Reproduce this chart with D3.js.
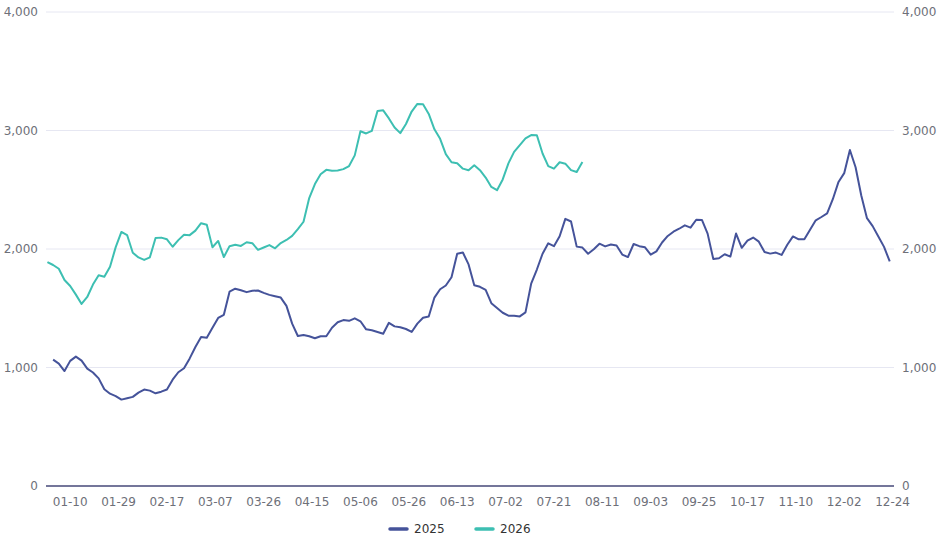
<!DOCTYPE html>
<html>
<head>
<meta charset="utf-8">
<script src="https://cdn.jsdelivr.net/npm/d3@7"></script>
<style>
    html, body { margin: 0; padding: 0; background: #fff; }
    svg text { font-family: 'DejaVu Sans', sans-serif; font-size: 12px; fill: #6E7079; }
</style>
</head>
<body>
<svg id="chart" width="949" height="539"></svg>
<script>
// category axis: 298 trading-day slots, a label every 17 slots starting at slot 8
const categoryCount = 298;
const tickLabels = ['01-10', '01-29', '02-17', '03-07', '03-26', '04-15', '05-06', '05-26', '06-13',
    '07-02', '07-21', '08-11', '09-03', '09-25', '10-17', '11-10', '12-02', '12-24'];
const firstTick = 8;
const tickEvery = 17;

const yTicks = [0, 1000, 2000, 3000, 4000];

// values read every 2nd slot (slot 0, 2, 4, ...)
const step = 2;
const series2025 = [
    null, 1066, 1033, 970, 1056, 1092, 1058, 990, 958, 908,
    816, 779, 759, 729, 741, 752, 788, 814, 805, 782,
    796, 814, 897, 960, 994, 1077, 1173, 1258, 1251, 1335,
    1418, 1445, 1640, 1665, 1652, 1636, 1648, 1650, 1630, 1613,
    1601, 1590, 1520, 1370, 1266, 1275, 1264, 1247, 1264, 1264,
    1336, 1382, 1400, 1394, 1415, 1390, 1322, 1314, 1300, 1285,
    1377, 1347, 1340, 1325, 1300, 1370, 1420, 1431, 1590, 1660,
    1692, 1762, 1960, 1970, 1870, 1694, 1681, 1655, 1543, 1502,
    1462, 1437, 1437, 1431, 1465, 1708, 1827, 1960, 2048, 2024,
    2108, 2254, 2232, 2020, 2012, 1960, 1998, 2045, 2022, 2038,
    2030, 1953, 1932, 2042, 2024, 2014, 1952, 1980, 2055, 2110,
    2146, 2171, 2200, 2180, 2247, 2245, 2130, 1915, 1922, 1956,
    1936, 2130, 2010, 2070, 2097, 2062, 1975, 1961, 1970, 1950,
    2036, 2106, 2082, 2082, 2162, 2242, 2270, 2300, 2420, 2566,
    2640, 2835, 2690, 2451, 2260, 2193, 2106, 2018, 1895
];
const series2026 = [
    1890, 1865, 1833, 1738, 1688, 1615, 1536, 1595, 1700, 1778,
    1766, 1850, 2016, 2144, 2118, 1968, 1929, 1908, 1930, 2093,
    2096, 2082, 2019, 2075, 2120, 2117, 2155, 2218, 2205, 2015,
    2068, 1932, 2024, 2036, 2026, 2057, 2049, 1993, 2013, 2033,
    2006, 2050, 2076, 2111, 2167, 2230, 2430, 2548, 2631, 2668,
    2661, 2663, 2674, 2700, 2790, 2994, 2975, 2997, 3165, 3170,
    3102, 3025, 2978, 3055, 3160, 3224, 3221, 3140, 3010, 2930,
    2800, 2732, 2724, 2678, 2665, 2707, 2665, 2603, 2524, 2496,
    2587, 2723, 2820, 2877, 2933, 2961, 2960, 2806, 2700, 2678,
    2732, 2720, 2666, 2650, 2735
];

const seriesNames = ['2025', '2026'];
const seriesColors = ['#45539a', '#3dbfb2'];

const svg = d3.select('#chart');
const margin = { left: 46, right: 55, top: 12, bottom: 53 };
const width = 949, height = 539;

const x = d3.scaleBand()
    .domain(d3.range(categoryCount))
    .range([margin.left, width - margin.right]);
const cx = i => x(i) + x.bandwidth() / 2;

const y = d3.scaleLinear()
    .domain([0, 4000])
    .range([height - margin.bottom, margin.top]);

// grid
svg.append('g')
    .selectAll('line')
    .data(yTicks.filter(d => d > 0))
    .enter()
    .append('line')
    .attr('x1', margin.left)
    .attr('x2', width - margin.right)
    .attr('y1', d => y(d))
    .attr('y2', d => y(d))
    .style('stroke', '#E6E7F2')
    .style('stroke-width', '1px');

// y labels, both sides
const fmt = d3.format(',');
svg.append('g')
    .selectAll('text')
    .data(yTicks)
    .enter()
    .append('text')
    .attr('x', margin.left - 8)
    .attr('y', d => y(d))
    .attr('dy', '0.35em')
    .attr('text-anchor', 'end')
    .text(d => fmt(d));

svg.append('g')
    .selectAll('text')
    .data(yTicks)
    .enter()
    .append('text')
    .attr('x', width - margin.right + 8)
    .attr('y', d => y(d))
    .attr('dy', '0.35em')
    .attr('text-anchor', 'start')
    .text(d => fmt(d));

// x axis line
svg.append('line')
    .attr('x1', margin.left)
    .attr('x2', width - margin.right)
    .attr('y1', y(0))
    .attr('y2', y(0))
    .style('stroke', '#74769a')
    .style('stroke-width', '2px');

svg.append('g')
    .selectAll('text')
    .data(tickLabels)
    .enter()
    .append('text')
    .attr('x', (d, i) => cx(firstTick + i * tickEvery))
    .attr('y', y(0) + 20)
    .attr('text-anchor', 'middle')
    .text(d => d);

// lines
const line = d3.line()
    .defined(d => d[1] != null)
    .x(d => cx(d[0]))
    .y(d => y(d[1]));

[series2025, series2026].forEach((vals, k) => {
    const pts = vals.map((v, i) => [i * step, v]);
    svg.append('path')
        .datum(pts)
        .attr('d', line)
        .style('fill', 'none')
        .style('stroke', seriesColors[k])
        .style('stroke-width', '2px')
        .style('stroke-linejoin', 'round');
});

// legend
const legend = svg.append('g')
    .attr('transform', 'translate(389,529)');

const item = legend.selectAll('g')
    .data(seriesNames)
    .enter()
    .append('g')
    .attr('transform', (d, i) => 'translate(' + (i * 86) + ',0)');

item.append('line')
    .attr('x1', 1)
    .attr('x2', 18)
    .style('stroke', (d, i) => seriesColors[i])
    .style('stroke-width', '3.5px')
    .style('stroke-linecap', 'round');

item.append('text')
    .attr('x', 25)
    .attr('dy', '0.35em')
    .style('fill', '#333')
    .text(d => d);
</script>
</body>
</html>
